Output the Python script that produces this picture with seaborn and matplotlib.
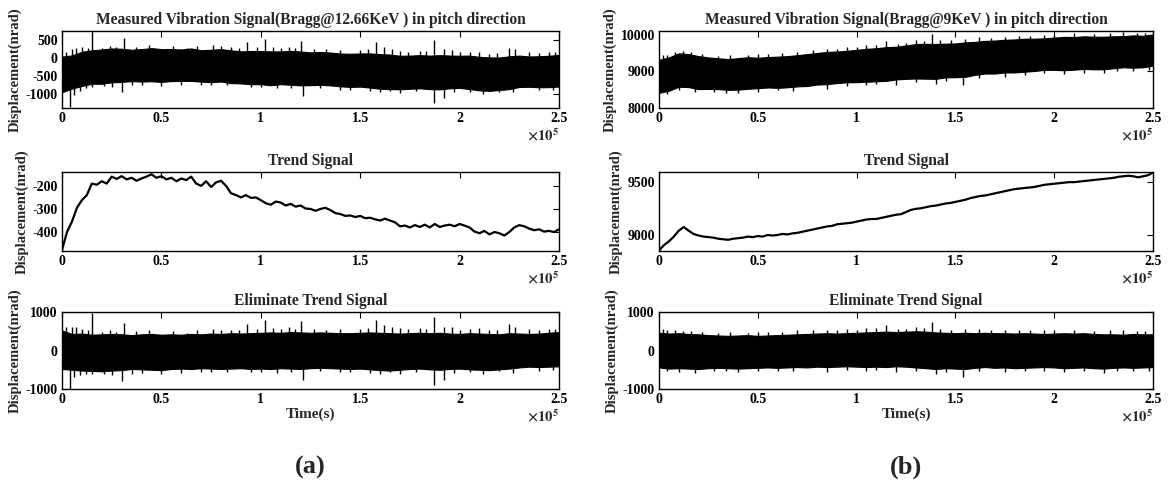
import numpy as np
import pandas as pd
import matplotlib
matplotlib.use("Agg")
import matplotlib.pyplot as plt
import seaborn as sns

# ---------------- data (time in units of 1e5 s) ----------------
trend_t = np.round(np.arange(101) * 0.025, 3)
trend_a = [-478, -400, -355, -295, -262, -240, -190, -195, -180, -190,
           -160, -170, -158, -172, -165, -178, -168, -160, -150, -165,
           -158, -172, -165, -180, -168, -175, -160, -190, -200, -180,
           -205, -185, -178, -200, -232, -240, -250, -240, -252, -250,
           -262, -275, -282, -268, -272, -285, -278, -290, -285, -298,
           -300, -308, -300, -295, -305, -318, -322, -330, -328, -335,
           -330, -340, -338, -345, -350, -342, -350, -358, -375, -372,
           -380, -370, -378, -368, -380, -365, -378, -372, -368, -375,
           -365, -372, -380, -398, -405, -395, -410, -400, -405, -415,
           -400, -380, -370, -375, -385, -392, -388, -398, -395, -400,
           -388]
trend_b = [8855, 8905, 8940, 8985, 9040, 9075, 9040, 9010, 8995, 8985,
           8980, 8975, 8965, 8960, 8955, 8965, 8970, 8975, 8985, 8980,
           8990, 8985, 9000, 8995, 9000, 9010, 9005, 9015, 9020, 9030,
           9040, 9050, 9060, 9070, 9080, 9085, 9100, 9105, 9110, 9115,
           9125, 9135, 9145, 9150, 9150, 9160, 9170, 9180, 9190, 9195,
           9215, 9235, 9245, 9250, 9260, 9270, 9275, 9285, 9295, 9300,
           9310, 9320, 9330, 9345, 9355, 9365, 9370, 9380, 9390, 9400,
           9410, 9420, 9430, 9435, 9440, 9445, 9450, 9460, 9470, 9475,
           9480, 9485, 9490, 9495, 9495, 9500, 9505, 9510, 9515, 9520,
           9525, 9530, 9535, 9545, 9550, 9555, 9550, 9540, 9550, 9560,
           9585]

env_t = np.round(np.arange(51) * 0.05, 2)
noise_a_upper = [520, 430, 440, 410, 420, 430, 420, 400, 420, 430,
                 410, 420, 410, 430, 420, 440, 430, 450, 440, 450,
                 460, 470, 460, 480, 470, 460, 470, 460, 450, 450,
                 460, 470, 460, 450, 440, 450, 460, 450, 460, 440,
                 430, 450, 440, 430, 420, 450, 440, 430, 440, 460, 480]
noise_a_lower = [-480, -500, -520, -530, -540, -520, -510, -480, -490, -500,
                 -510, -480, -470, -480, -460, -470, -480, -470, -460, -480,
                 -470, -480, -460, -470, -480, -460, -450, -460, -470, -480,
                 -470, -490, -510, -520, -500, -480, -470, -490, -500, -480,
                 -470, -490, -500, -510, -490, -470, -440, -420, -430, -420, -410]
noise_b_upper = [460, 440, 450, 430, 420, 400, 390, 380, 390, 400,
                 380, 390, 400, 410, 420, 430, 440, 450, 440, 450,
                 460, 470, 480, 490, 480, 490, 500, 490, 470, 460,
                 450, 460, 450, 460, 450, 450, 440, 450, 440, 430,
                 440, 450, 440, 450, 430, 420, 420, 410, 430, 420, 420]
noise_b_lower = [-440, -470, -460, -470, -480, -460, -450, -460, -470, -460,
                 -450, -440, -450, -440, -430, -440, -420, -430, -420, -410,
                 -420, -430, -420, -430, -410, -420, -440, -460, -480, -460,
                 -470, -480, -450, -430, -450, -440, -460, -450, -440, -430,
                 -440, -460, -450, -440, -460, -470, -450, -440, -450, -440, -430]

spike_a_t = [0.02, 0.05, 0.07, 0.13, 0.15, 0.20, 0.27, 0.31, 0.63, 0.85, 0.93,
             1.02, 1.10, 1.14, 1.20, 1.58, 1.62, 1.70, 1.87, 1.92, 1.96, 2.05,
             2.15, 2.25, 2.35, 2.45,
             0.10, 0.24, 0.37, 0.44, 0.56, 0.68, 0.76, 0.80, 0.89, 0.98, 1.06,
             1.17, 1.27, 1.33, 1.40, 1.50, 1.54, 1.66, 1.74, 1.80, 1.83, 2.00,
             2.10, 2.19, 2.28, 2.40, 2.48,
             0.04, 0.06, 0.15, 0.21, 0.30, 0.50, 0.70, 0.95, 1.21, 1.45, 1.65,
             1.87, 1.92, 2.05, 2.20,
             0.09, 0.12, 0.25, 0.35, 0.40, 0.60, 0.75, 0.83, 1.00, 1.08, 1.15,
             1.30, 1.40, 1.55, 1.60, 1.70, 1.78, 1.97, 2.12, 2.27, 2.40, 2.47]
spike_a_v = [600, 620, 600, 520, 980, 470, 480, 720, 460, 540, 680,
             800, 560, 600, 770, 800, 660, 580, 880, 620, 600, 560,
             520, 680, 560, 560,
             560, 520, 500, 520, 500, 530, 560, 520, 540, 560, 580,
             560, 560, 540, 560, 560, 580, 600, 560, 580, 560, 540,
             580, 540, 620, 540, 560,
             -1000, -700, -620, -600, -780, -620, -560, -560, -760, -560, -560,
             -900, -760, -560, -540,
             -640, -600, -640, -600, -580, -580, -560, -560, -560, -580, -560,
             -540, -560, -580, -600, -600, -560, -580, -600, -580, -520, -500]
spike_b_t = [0.04, 0.12, 0.55, 0.85, 0.95, 1.05, 1.15, 1.21, 1.30, 1.38, 1.42,
             1.62, 1.75, 1.95, 2.10, 2.35, 2.42,
             0.02, 0.08, 0.16, 0.22, 0.30, 0.36, 0.45, 0.50, 0.62, 0.70, 0.78,
             0.90, 1.00, 1.10, 1.25, 1.34, 1.48, 1.55, 1.68, 1.82, 1.88, 2.00,
             2.20, 2.28, 2.46,
             0.18, 0.40, 0.85, 1.20, 1.40, 1.54, 1.75, 2.05, 2.25,
             0.04, 0.10, 0.28, 0.34, 0.50, 0.60, 0.68, 0.95, 1.05, 1.10, 1.30,
             1.45, 1.62, 1.85, 1.95, 2.15, 2.32, 2.40, 2.48]
spike_b_v = [520, 500, 480, 520, 560, 580, 660, 560, 600, 740, 560,
             560, 540, 520, 540, 520, 500,
             560, 540, 500, 480, 460, 480, 460, 480, 480, 520, 520,
             520, 540, 580, 560, 580, 540, 560, 540, 520, 520, 520,
             500, 520, 500,
             -580, -560, -560, -560, -620, -700, -560, -560, -580,
             -540, -560, -540, -540, -540, -520, -540, -500, -520, -500, -540,
             -560, -540, -540, -520, -540, -540, -540, -520]

titles_a = "Measured Vibration Signal(Bragg@12.66KeV ) in pitch direction"
titles_b = "Measured Vibration Signal(Bragg@9KeV ) in pitch direction"
xticks = [0, 0.5, 1, 1.5, 2, 2.5]

# ---------------- style ----------------
sns.set_theme(style="white")
plt.rcParams["font.family"] = ["Liberation Serif", "DejaVu Serif"]
plt.rcParams["mathtext.fontset"] = "stix"
plt.rcParams["axes.unicode_minus"] = False
plt.rcParams["font.weight"] = "bold"
plt.rcParams["axes.labelweight"] = "bold"
plt.rcParams["axes.titleweight"] = "bold"
plt.rcParams["xtick.direction"] = "in"
plt.rcParams["ytick.direction"] = "in"
plt.rcParams["xtick.top"] = True
plt.rcParams["ytick.right"] = True
plt.rcParams["axes.edgecolor"] = "black"
plt.rcParams["axes.linewidth"] = 1.0

fig = plt.figure(figsize=(11.69, 4.92), dpi=100)
W, H = 1169.0, 492.0

def make_ax(x0, x1, y0, y1):
    return fig.add_axes([x0 / W, 1 - y1 / H, (x1 - x0) / W, (y1 - y0) / H])

cols = [(62, 559), (659, 1153)]
rows = [(31, 108), (172, 251), (312, 389)]

def style_ax(ax, title, ylim, yticks, xlabel=None):
    ax.set_xlim(0, 2.5e5)
    ax.set_ylim(*ylim)
    ax.set_yticks(yticks)
    ax.set_xticks([v * 1e5 for v in xticks])
    ax.set_xticklabels([f"{v:g}" for v in xticks])
    ax.set_title(title, fontsize=11.2, fontweight="bold", pad=5)
    ax.set_ylabel("Displacement(nrad)", fontsize=10.5, fontweight="bold", labelpad=3)
    ax.set_xlabel(xlabel if xlabel else "", fontsize=11, fontweight="bold", labelpad=1)
    ax.tick_params(axis="both", labelsize=10, length=4, width=0.8, pad=3, colors="black")
    for lab in ax.get_xticklabels() + ax.get_yticklabels():
        lab.set_fontweight("bold")
    for s in ax.spines.values():
        s.set_visible(True)
        s.set_color("black")
    ax.text(1.0, -0.24, r"$\times10^5$", transform=ax.transAxes, ha="right",
            va="top", fontsize=10.5)

def band(ax, base_t, base, up, lo, st, sv):
    t = np.asarray(env_t) * 1e5
    b = np.interp(env_t, base_t, base) if base is not None else 0
    ax.fill_between(t, b + np.asarray(up), b + np.asarray(lo), color="black",
                    lw=0.8, edgecolor="black")
    st = np.asarray(st)
    sb = np.interp(st, base_t, base) if base is not None else 0
    sv = np.asarray(sv)
    ax.vlines(st * 1e5, sb, sb + sv, color="black", lw=1.0)

sets = [
    dict(trend=trend_a, up=noise_a_upper, lo=noise_a_lower, st=spike_a_t, sv=spike_a_v,
         title=titles_a, ylim1=(-1400, 760), yt1=[-1000, -500, 0, 500],
         ylim2=(-482, -140), yt2=[-400, -300, -200], label="(a)"),
    dict(trend=trend_b, up=noise_b_upper, lo=noise_b_lower, st=spike_b_t, sv=spike_b_v,
         title=titles_b, ylim1=(8000, 10100), yt1=[8000, 9000, 10000],
         ylim2=(8850, 9590), yt2=[9000, 9500], label="(b)"),
]

for (x0, x1), d in zip(cols, sets):
    ax1 = make_ax(x0, x1, *rows[0])
    band(ax1, trend_t, d["trend"], d["up"], d["lo"], d["st"], d["sv"])
    style_ax(ax1, d["title"], d["ylim1"], d["yt1"])
    ax2 = make_ax(x0, x1, *rows[1])
    df = pd.DataFrame({"t": np.asarray(trend_t) * 1e5, "v": d["trend"]})
    sns.lineplot(data=df, x="t", y="v", ax=ax2, color="black", lw=1.6)
    style_ax(ax2, "Trend Signal", d["ylim2"], d["yt2"])
    ax3 = make_ax(x0, x1, *rows[2])
    band(ax3, trend_t, None, d["up"], d["lo"], d["st"], d["sv"])
    style_ax(ax3, "Eliminate Trend Signal", (-1000, 1000), [-1000, 0, 1000], xlabel="Time(s)")
    fig.text((x0 + x1) / 2 / W, 1 - 467 / H, d["label"], ha="center", va="center",
             fontsize=19, fontweight="bold")

fig.savefig("out.png", dpi=100)
